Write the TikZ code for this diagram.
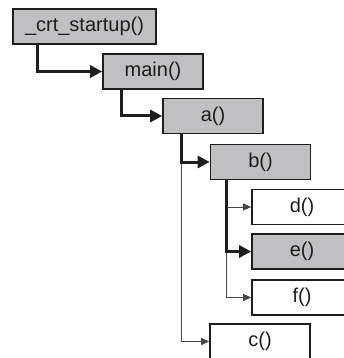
\documentclass[tikz,border=0pt]{standalone}
\usepackage{fontspec}
\setmainfont{Liberation Sans}
\usetikzlibrary{arrows.meta,positioning,calc}
\definecolor{callgrey}{RGB}{192,192,194}
\definecolor{inkdark}{RGB}{30,30,30}
\definecolor{thinline}{RGB}{70,70,70}

\begin{document}
\begin{tikzpicture}[x=1pt, y=-1pt,
    fnbox/.style={rectangle, draw=inkdark, line width=1.6pt, fill=white,
        minimum width=100pt, minimum height=35pt, inner sep=0pt,
        font=\fontsize{20}{23}\selectfont, text=inkdark},
    fnactive/.style={fnbox, fill=callgrey},
    callarr/.style={-{Triangle[length=12pt, width=12pt]}, line width=3pt, inkdark},
    sidearr/.style={-{Triangle[length=8pt, width=7pt]}, line width=1pt, thinline}
]
    \useasboundingbox (0,0) rectangle (344,358);
    \clip (0,0) rectangle (344,358);

    \node[fnactive, minimum width=143pt] (crt) at (84.5,26.5) {\_crt\_startup()};
    \node[fnactive] (main) at (153,71.5) {main()};
    \node[fnactive] (a) at (213,116) {a()};
    \node[fnactive] (b) at (260.5,162) {b()};
    \node[fnbox] (d) at (302,207) {d()};
    \node[fnactive] (e) at (302,251.5) {e()};
    \node[fnbox] (f) at (302,297.5) {f()};
    \node[fnbox] (c) at (260,341.5) {c()};

    % stems below each caller
    \coordinate (crtstem) at ([xshift=25pt]crt.south west);
    \coordinate (mainstem) at ([xshift=19pt]main.south west);
    \coordinate (astem) at ([xshift=19pt]a.south west);
    \coordinate (bstem) at ([xshift=17pt]b.south west);

    % calls that were made but have returned
    \draw[sidearr] (astem) |- (c.west);
    \draw[sidearr] (bstem) |- (f.west);
    \draw[sidearr] (bstem |- d.west) -- (d.west);

    % the live call chain
    \draw[callarr] (crtstem) |- (main.west);
    \draw[callarr] (mainstem) |- (a.west);
    \draw[callarr] (astem) |- (b.west);
    \draw[callarr] (bstem) |- (e.west);
\end{tikzpicture}
\end{document}
